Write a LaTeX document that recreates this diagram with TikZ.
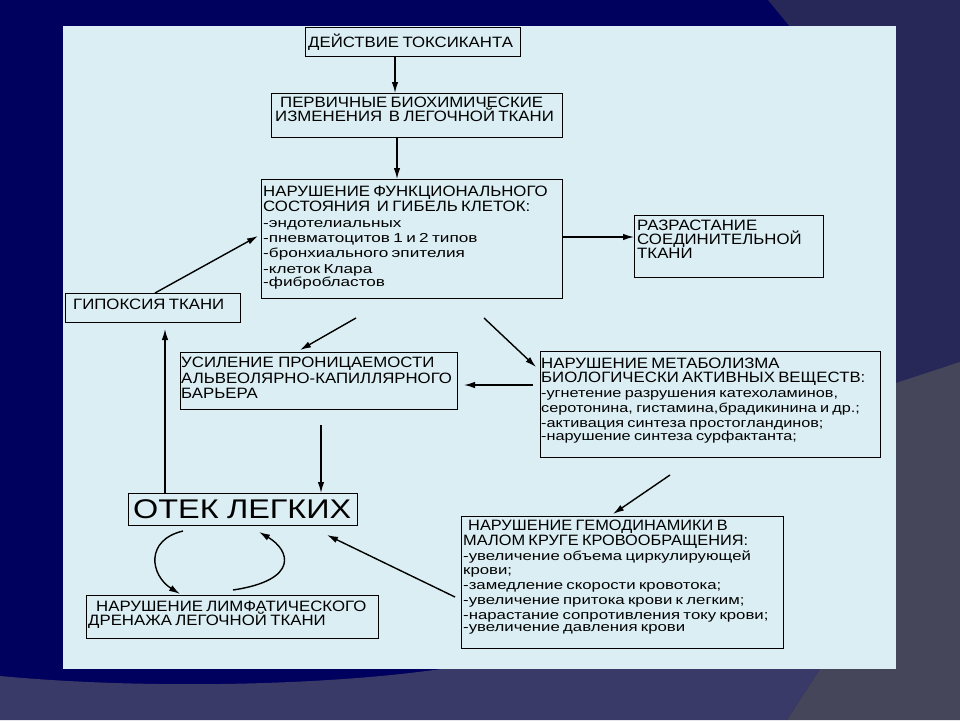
\documentclass[tikz,border=0pt]{standalone}
\usepackage{fontspec}
\setmainfont{Liberation Sans}
\newfontfamily\hfont[FakeStretch=1.12]{Liberation Sans}
\newfontfamily\hfontB[FakeStretch=1.09]{Liberation Sans}
\newfontfamily\lfont[FakeStretch=1.25]{Liberation Sans}
\newfontfamily\lfontB[FakeStretch=1.32]{Liberation Sans}
\newfontfamily\lfontC[FakeStretch=1.29]{Liberation Sans}
\newfontfamily\gfont[FakeStretch=1.2]{Liberation Sans}
\usetikzlibrary{arrows.meta,calc}
\newcommand\HdF[1]{\hfont\fontsize{15}{#1}\selectfont\lineskiplimit=-50pt\relax}
\newcommand\HdFB[1]{\hfontB\fontsize{15}{#1}\selectfont\lineskiplimit=-50pt\relax}
\newcommand\LsF[1]{\lfont\fontsize{13}{#1}\selectfont\lineskiplimit=-50pt\relax}
\newcommand\LsFB[1]{\lfontB\fontsize{13}{#1}\selectfont\lineskiplimit=-50pt\relax}
\newcommand\LsFC[1]{\lfontC\fontsize{13}{#1}\selectfont\lineskiplimit=-50pt\relax}
\newcommand\BgF{\gfont\fontsize{27}{28}\selectfont}
\newcommand\TopStrut{\rule{0pt}{16pt}}
\definecolor{navy}{RGB}{0,0,94}
\definecolor{slate}{RGB}{40,40,88}
\definecolor{bandpurple}{RGB}{58,58,104}
\definecolor{grayish}{RGB}{70,70,90}
\definecolor{panel}{RGB}{219,238,243}
\begin{document}
\begin{tikzpicture}[x=1pt,y=-1pt,
  box/.style={draw=black, line width=1.3pt, inner sep=0pt, anchor=north west},
  txt/.style={anchor=north west, inner sep=0pt, text width=400pt, align=left},
  line/.style={anchor=base west, inner sep=0pt, font=\HdF{15}},
  arr/.style={line width=1.4pt, -{Latex[length=11pt,width=6.5pt]}}]
\useasboundingbox (0,0) rectangle (960,720);
% background
\fill[navy] (0,0) rectangle (960,720);
\fill[slate] (768,0) -- (960,0) -- (960,400) -- (870,400) -- (870,100) -- (850,100) -- cycle;
\fill[bandpurple] (0,676) .. controls (150,690) and (330,685) .. (441,669) -- (820,669) -- (787,720) -- (0,720) -- cycle;
\fill[grayish] (960,362) -- (820,408) -- (820,669) -- (787,720) -- (960,720) -- cycle;
\fill[panel] (63,26) rectangle (896,669);

% boxes
\node[box, minimum width=215pt, minimum height=29pt] (b1) at (305,27) {};
\node[box, minimum width=291pt, minimum height=44pt] (b2) at (271,93) {};
\node[box, minimum width=301pt, minimum height=119pt] (b3) at (261,179) {};
\node[box, minimum width=189pt, minimum height=62pt] (b4) at (634,215) {};
\node[box, minimum width=175pt, minimum height=29pt] (b5) at (65,293) {};
\node[box, minimum width=277pt, minimum height=57pt] (b6) at (180,352) {};
\node[box, minimum width=340pt, minimum height=106pt] (b7) at (540,351) {};
\node[box, minimum width=229pt, minimum height=32pt] (b8) at (128,493) {};
\node[box, minimum width=292pt, minimum height=43pt] (b9) at (86,595) {};
\node[box, minimum width=322pt, minimum height=132pt] (b10) at (461,516) {};

% texts
\node[txt] (t1) at (308,31) {\HdF{15.5}\TopStrut ДЕЙСТВИЕ ТОКСИКАНТА};
\node[txt] (t2) at (275,91) {\HdF{15.6}\TopStrut\hspace*{5pt}ПЕРВИЧНЫЕ БИОХИМИЧЕСКИЕ\\ИЗМЕНЕНИЯ~ В ЛЕГОЧНОЙ ТКАНИ};
\node[txt] (t3) at (263,180) {\HdF{15.4}\TopStrut НАРУШЕНИЕ ФУНКЦИОНАЛЬНОГО\\СОСТОЯНИЯ~ И ГИБЕЛЬ КЛЕТОК:\\\LsFB{15.4}-эндотелиальных\\-пневматоцитов 1 и 2 типов\\-бронхиального эпителия\\-клеток Клара\\-фибробластов};
\node[txt] (t4) at (637,214) {\HdF{14}\TopStrut РАЗРАСТАНИЕ\\СОЕДИНИТЕЛЬНОЙ\\ТКАНИ};
\node[txt] (t5) at (73,293) {\HdF{15}\TopStrut ГИПОКСИЯ ТКАНИ};
\node[line] (t6a) at (181,367) {УСИЛЕНИЕ ПРОНИЦАЕМОСТИ};
\node[line] (t6b) at (181,383) {АЛЬВЕОЛЯРНО-КАПИЛЛЯРНОГО};
\node[line] (t6c) at (181,398.5) {БАРЬЕРА};
\node[txt] (t7) at (541,352) {\HdF{14.7}\TopStrut НАРУШЕНИЕ МЕТАБОЛИЗМА\\БИОЛОГИЧЕСКИ АКТИВНЫХ ВЕЩЕСТВ:\\\LsF{14.7}-угнетение разрушения катехоламинов,\\серотонина, гистамина,брадикинина и др.;\\-активация синтеза простогландинов;\\-нарушение синтеза сурфактанта;};
\node[txt] (t8) at (133,490.5) {\BgF\rule{0pt}{28pt}ОТЕК\hspace{5pt} ЛЕГКИХ};
\node[txt] (t9) at (88,595) {\HdF{14}\TopStrut\hspace*{8pt}НАРУШЕНИЕ ЛИМФАТИЧЕСКОГО\\ДРЕНАЖА ЛЕГОЧНОЙ ТКАНИ};
\node[txt] (t10) at (463,514) {\HdFB{14.9}\TopStrut\hspace*{5pt}НАРУШЕНИЕ ГЕМОДИНАМИКИ В\\МАЛОМ КРУГЕ КРОВООБРАЩЕНИЯ:\\\LsFC{14.9}-увеличение объема циркулирующей\\крови;\\-замедление скорости кровотока;\\-увеличение притока крови к легким;\\-нарастание сопротивления току крови;\\-увеличение давления крови};

% connector anchors
\coordinate (xa) at (395,0);
\coordinate (xb) at (397,0);
\coordinate (yc) at (0,237);
\coordinate (xd) at (155,0);
\coordinate (dE) at (258,236);
\coordinate (eS) at (356,318);
\coordinate (eE) at (300,350);
\coordinate (fS) at (484,318);
\coordinate (fE) at (536,367);
\coordinate (gS) at (533,385);
\coordinate (gE) at (464,385);
\coordinate (hS) at (321,425);
\coordinate (xi) at (165,0);
\coordinate (iE) at (165,329);
\coordinate (jS) at (455,597);
\coordinate (jE) at (327,535);
\coordinate (kS) at (670,475);
\coordinate (kE) at (613,514);
\coordinate (lS) at (183,531);
\coordinate (lE) at (180,594);
\coordinate (rS) at (233,590);
\coordinate (rE) at (259,532);

% connectors
\draw[arr] (b1.south -| xa) -- (b2.north -| xa);
\draw[arr] (b2.south -| xb) -- (b3.north -| xb);
\draw[arr] (b3.east |- yc) -- (b4.west |- yc);
\draw[arr] (b5.north -| xd) -- (dE);
\draw[arr] (eS) -- (eE);
\draw[arr] (fS) -- (fE);
\draw[arr] (gS) -- (gE);
\draw[arr] (hS) -- (b8.north -| hS);
\draw[arr] (b8.north -| xi) -- (iE);
\draw[arr] (jS) -- (jE);
\draw[arr] (kS) -- (kE);
\draw[arr] (lS) .. controls (145,540) and (150,575) .. (lE);
\draw[arr] (rS) .. controls (300,580) and (290,550) .. (rE);
\end{tikzpicture}
\end{document}
